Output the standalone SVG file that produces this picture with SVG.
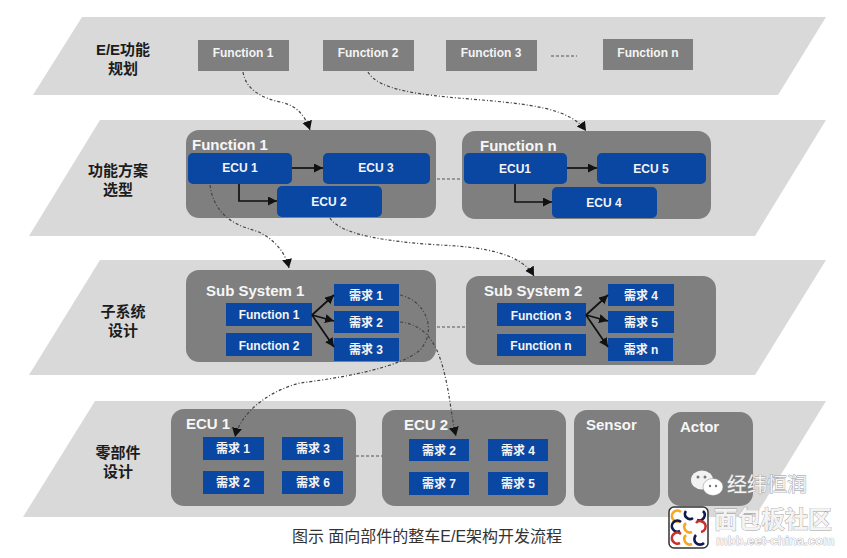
<svg xmlns="http://www.w3.org/2000/svg" width="847" height="558" viewBox="0 0 847 558">
<style>
text{font-family:"Liberation Sans","Noto Sans CJK SC",sans-serif;text-anchor:middle}
.band{fill:#d9d9d9}
.grp{fill:#7f7f7f}
.fn{fill:#7f7f7f}
.blue{fill:#0a47a3}
.lab{font-size:15px;font-weight:700;fill:#1c1c1c}
.t{font-size:12px;font-weight:700;fill:#f4f4f4}
.h{font-size:15px;font-weight:700;fill:#f6f6f6;text-anchor:start}
.a{fill:none;stroke:#111;stroke-width:1.7;marker-end:url(#solid)}
.d{fill:none;stroke:#444;stroke-width:1.2;stroke-dasharray:3 2 1 2;marker-end:url(#tip)}
.g{fill:none;stroke:#555;stroke-width:1.2;stroke-dasharray:3 2}
.cap{font-size:16px;fill:#333}
.wm{font-size:20px;fill:#f4f4f4;stroke:#9a9a9a;stroke-width:.8;paint-order:stroke;text-anchor:start}
.arc{fill:none;stroke-width:2.6}
</style>
<defs>
<marker id="solid" markerUnits="userSpaceOnUse" markerWidth="10" markerHeight="10" refX="9" refY="4.5" orient="auto"><path d="M0,0L9,4.5L0,9Z" fill="#111"/></marker>
<marker id="tip" markerUnits="userSpaceOnUse" markerWidth="11" markerHeight="11" refX="9" refY="5" orient="auto"><path d="M0,0L9,5L0,10Z" fill="#111"/></marker>
</defs>
<g id="band-1"><polygon class="band" points="82,17 826,17 778,95 33,95"/><text class="lab" x="123" y="55">E/E功能</text><text class="lab" x="123" y="74">规划</text></g>
<g id="band-2"><polygon class="band" points="100,120 826,120 755,236 29,236"/><text class="lab" x="118" y="176">功能方案</text><text class="lab" x="118" y="195">选型</text></g>
<g id="band-3"><polygon class="band" points="100,260 826,260 755,375 29,375"/><text class="lab" x="123" y="317">子系统</text><text class="lab" x="123" y="336">设计</text></g>
<g id="band-4"><polygon class="band" points="95,401 826,401 755,517 23,517"/><text class="lab" x="118" y="458">零部件</text><text class="lab" x="118" y="477">设计</text></g>

<g id="f1"><rect class="fn" x="198" y="40" width="91" height="31"/><text class="t" x="243" y="57">Function 1</text></g>
<g id="f2"><rect class="fn" x="323" y="40" width="91" height="31"/><text class="t" x="368" y="57">Function 2</text></g>
<g id="f3"><rect class="fn" x="446" y="40" width="91" height="31"/><text class="t" x="491" y="57">Function 3</text></g>
<g id="fn"><rect class="fn" x="603" y="39" width="90" height="31"/><text class="t" x="648" y="57">Function n</text></g>

<g id="group-function-1"><rect class="grp" x="186" y="130" width="250" height="88" rx="13"/><text class="h" x="192" y="150">Function 1</text>
<g id="g1-ecu1"><rect class="blue" x="188" y="153" width="104" height="31" rx="5"/><text class="t" x="240" y="172">ECU 1</text></g>
<g id="g1-ecu3"><rect class="blue" x="323" y="153" width="107" height="31" rx="5"/><text class="t" x="376" y="172">ECU 3</text></g>
<g id="g1-ecu2"><rect class="blue" x="277" y="186" width="105" height="31" rx="5"/><text class="t" x="329" y="206">ECU 2</text></g></g>
<g id="group-function-n"><rect class="grp" x="462" y="131" width="249" height="88" rx="13"/><text class="h" x="480" y="151">Function n</text>
<g id="gn-ecu1"><rect class="blue" x="464" y="153" width="103" height="31" rx="5"/><text class="t" x="515" y="173">ECU1</text></g>
<g id="gn-ecu5"><rect class="blue" x="597" y="153" width="109" height="31" rx="5"/><text class="t" x="651" y="173">ECU 5</text></g>
<g id="gn-ecu4"><rect class="blue" x="552" y="187" width="105" height="31" rx="5"/><text class="t" x="604" y="207">ECU 4</text></g></g>

<g id="group-subsystem-1"><rect class="grp" x="186" y="270" width="250" height="92" rx="13"/><text class="h" x="206" y="296">Sub System 1</text>
<g id="s1-f1"><rect class="blue" x="226" y="303" width="86" height="23"/><text class="t" x="269" y="319">Function 1</text></g>
<g id="s1-f2"><rect class="blue" x="226" y="333" width="86" height="23"/><text class="t" x="269" y="350">Function 2</text></g>
<g id="s1-r1"><rect class="blue" x="334" y="284" width="65" height="22"/><text class="t" x="366" y="300">需求 1</text></g>
<g id="s1-r2"><rect class="blue" x="334" y="311" width="65" height="22"/><text class="t" x="366" y="327">需求 2</text></g>
<g id="s1-r3"><rect class="blue" x="334" y="338" width="65" height="23"/><text class="t" x="366" y="354">需求 3</text></g></g>
<g id="group-subsystem-2"><rect class="grp" x="466" y="276" width="250" height="89" rx="13"/><text class="h" x="484" y="296">Sub System 2</text>
<g id="s2-f3"><rect class="blue" x="497" y="303" width="89" height="23"/><text class="t" x="541" y="320">Function 3</text></g>
<g id="s2-fn"><rect class="blue" x="497" y="334" width="89" height="22"/><text class="t" x="541" y="350">Function n</text></g>
<g id="s2-r4"><rect class="blue" x="608" y="284" width="66" height="22"/><text class="t" x="641" y="300">需求 4</text></g>
<g id="s2-r5"><rect class="blue" x="608" y="311" width="66" height="22"/><text class="t" x="641" y="327">需求 5</text></g>
<g id="s2-rn"><rect class="blue" x="608" y="338" width="65" height="23"/><text class="t" x="641" y="354">需求 n</text></g></g>

<g id="group-ecu-1"><rect class="grp" x="171" y="409" width="185" height="97" rx="13"/><text class="h" x="186" y="429">ECU 1</text>
<g id="e1-r1"><rect class="blue" x="203" y="437" width="61" height="23"/><text class="t" x="233" y="453">需求 1</text></g>
<g id="e1-r3"><rect class="blue" x="282" y="437" width="61" height="23"/><text class="t" x="313" y="453">需求 3</text></g>
<g id="e1-r2"><rect class="blue" x="203" y="471" width="61" height="23"/><text class="t" x="233" y="487">需求 2</text></g>
<g id="e1-r6"><rect class="blue" x="282" y="471" width="61" height="23"/><text class="t" x="313" y="487">需求 6</text></g></g>
<g id="group-ecu-2"><rect class="grp" x="382" y="410" width="184" height="96" rx="13"/><text class="h" x="404" y="430">ECU 2</text>
<g id="e2-r2"><rect class="blue" x="409" y="439" width="60" height="22"/><text class="t" x="439" y="455">需求 2</text></g>
<g id="e2-r4"><rect class="blue" x="488" y="439" width="60" height="22"/><text class="t" x="518" y="455">需求 4</text></g>
<g id="e2-r7"><rect class="blue" x="409" y="472" width="60" height="23"/><text class="t" x="439" y="488">需求 7</text></g>
<g id="e2-r5"><rect class="blue" x="488" y="472" width="60" height="23"/><text class="t" x="518" y="488">需求 5</text></g></g>
<g id="sensor"><rect class="grp" x="574" y="410" width="86" height="96" rx="13"/><text class="h" x="586" y="430">Sensor</text></g>
<g id="actor"><rect class="grp" x="668" y="412" width="85" height="94" rx="13"/><text class="h" x="680" y="432">Actor</text></g>

<g id="connectors">
<path class="g" d="M551,56H577"/>
<path class="g" d="M437,179H462"/>
<path class="g" d="M437,327H466"/>
<path class="g" d="M356,456H382"/>
<path class="a" d="M292,168H323"/>
<path class="a" d="M239,184V201H277"/>
<path class="a" d="M567,168H597"/>
<path class="a" d="M515,184V202H552"/>
<path class="a" d="M312,315L334,295"/>
<path class="a" d="M312,315L334,321"/>
<path class="a" d="M312,315L334,347"/>
<path class="a" d="M586,315L608,295"/>
<path class="a" d="M586,315L608,321"/>
<path class="a" d="M586,315L608,347"/>
<path class="d" d="M243,72C246,90 262,98 280,102C296,105 305,115 310,130"/>
<path class="d" d="M368,72C378,90 420,95 470,99C530,104 570,108 586,131"/>
<path class="d" d="M210,185C214,215 235,225 253,230C270,235 285,250 289,268"/>
<path class="d" d="M330,218C340,235 390,242 440,245C480,247 520,252 534,276"/>
<path class="d" d="M400,295C425,300 438,330 420,350C400,368 340,378 300,383C265,392 240,415 235,437"/>
<path class="d" d="M400,322C430,325 440,350 447,385C451,405 452,420 456,436"/>
</g>

<text id="caption" class="cap" x="427" y="542">图示 面向部件的整车E/E架构开发流程</text>

<g id="watermark">
<ellipse cx="702" cy="480" rx="11" ry="9.5" fill="#f2f2f2"/><ellipse cx="713" cy="487" rx="10" ry="8.5" fill="#fff" stroke="#8a8a8a" stroke-width=".5"/>
<circle cx="698" cy="477" r="1.5" fill="#777"/><circle cx="705" cy="477" r="1.5" fill="#777"/><circle cx="710" cy="486" r="1.2" fill="#777"/><circle cx="716" cy="486" r="1.2" fill="#777"/>
<text class="wm" x="727" y="492">经纬恒润</text>
<rect x="669" y="507" width="39" height="41" rx="5" fill="#fff" stroke="#333" stroke-width="1.5"/>
<path class="arc" stroke="#f5a623" d="M681,512a5.5,5.5 0 1 0 -1,9"/><path class="arc" stroke="#111a4d" d="M686,511a5,5 0 0 0 7,7"/><path class="arc" stroke="#111a4d" d="M703,511a5.5,5.5 0 0 1 -6,9"/>
<path class="arc" stroke="#111a4d" d="M681,522a5.5,5.5 0 1 0 -1,9"/><path class="arc" stroke="#f5a623" d="M686,523a5.5,5.5 0 0 0 6,9"/><path class="arc" stroke="#c9302c" d="M696,523a5.5,5.5 0 1 1 5,9"/>
<path class="arc" stroke="#c9302c" d="M681,534a5.5,5.5 0 1 0 -1,9"/><path class="arc" stroke="#f5a623" d="M686,535a5.5,5.5 0 0 0 6,9"/><path class="arc" stroke="#111a4d" d="M696,535a5.5,5.5 0 0 0 8,8"/>
<text class="wm" style="font-size:23.6px;font-weight:700" x="714" y="528">面包板社区</text>
<text class="wm" style="font-size:13px;font-weight:700;stroke-width:.6" x="716" y="545">mbb.eet-china.com</text>
</g>
</svg>
